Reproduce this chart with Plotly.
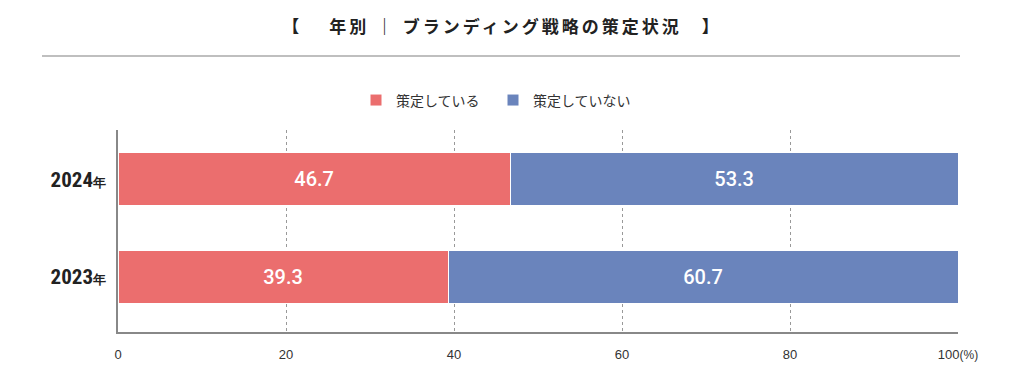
import plotly.graph_objects as go

years = ["2023年", "2024年"]
year_nums = ["2023", "2024"]
adopted = [39.3, 46.7]
not_adopted = [60.7, 53.3]
series_names = ["策定している", "策定していない"]
colors = ["#EB6E6E", "#6A84BC"]
x_ticks = [0, 20, 40, 60, 80, 100]
x_ticklabels = ["0", "20", "40", "60", "80", "100<span style='font-size:12px'>(%)</span>"]
title_text = "【　 年別 ｜ ブランディング戦略の策定状況　】"

ypos = [0, 1]
fig = go.Figure()
for name, vals, col in zip(series_names, [adopted, not_adopted], colors):
    fig.add_trace(go.Bar(
        y=ypos, x=vals, name=name, orientation="h",
        marker=dict(color=col, line=dict(color="white", width=1)),
        width=0.545,
        text=[f"{v:.1f}" for v in vals],
        textposition="inside", insidetextanchor="middle",
        textfont=dict(color="white", size=20, family="Roboto", weight=500),
        texttemplate="%{text}",
    ))

# page offset of 8px (body margin)
fig.update_layout(
    barmode="stack",
    width=1008, height=366,
    paper_bgcolor="white", plot_bgcolor="white",
    margin=dict(l=110, r=58, t=122, b=39),
    font=dict(family="Noto Sans CJK JP", color="#222"),
    showlegend=True,
    legend=dict(orientation="h", x=(356 - 118) / 840, xanchor="left",
                y=1.0 + (130 - 100) / 205, yanchor="middle",
                font=dict(size=14, color="#333"), itemwidth=30,
                entrywidth=92, traceorder="normal"),
    xaxis=dict(range=[0, 100], tickvals=x_ticks, ticktext=x_ticklabels,
               showgrid=True, gridcolor="#999", griddash="dot", gridwidth=1,
               showline=True, linecolor="#888", linewidth=1.5,
               zeroline=False, ticks="", ticklen=0, ticklabelstandoff=10,
               tickfont=dict(size=13, color="#333", family="Liberation Sans")),
    yaxis=dict(range=[-0.566, 1.505], tickvals=ypos,
               ticktext=[f"<b>{n}</b><span style='font-size:13px'><b>年</b></span>" for n in year_nums],
               showline=True, linecolor="#888", linewidth=1.5,
               showgrid=False, zeroline=False, ticks="", ticklabelstandoff=6,
               tickfont=dict(size=21, color="#222", family="Roboto Condensed, Roboto")),
    title=dict(text="<span style='letter-spacing:3px'><b>" + title_text + "</b></span>",
               x=(502 - 8) / 1008, xanchor="center",
               y=1 - (27 - 8) / 366, yanchor="middle",
               font=dict(size=17, color="#222", family="Noto Sans CJK JP")),
)

fig.add_shape(type="line", xref="paper", yref="paper",
              x0=(42 - 118) / 840, x1=(960 - 118) / 840,
              y0=1 + (130 - 55) / 205, y1=1 + (130 - 55) / 205,
              line=dict(color="#aaa", width=1.5))

fig.write_html("out.html")
